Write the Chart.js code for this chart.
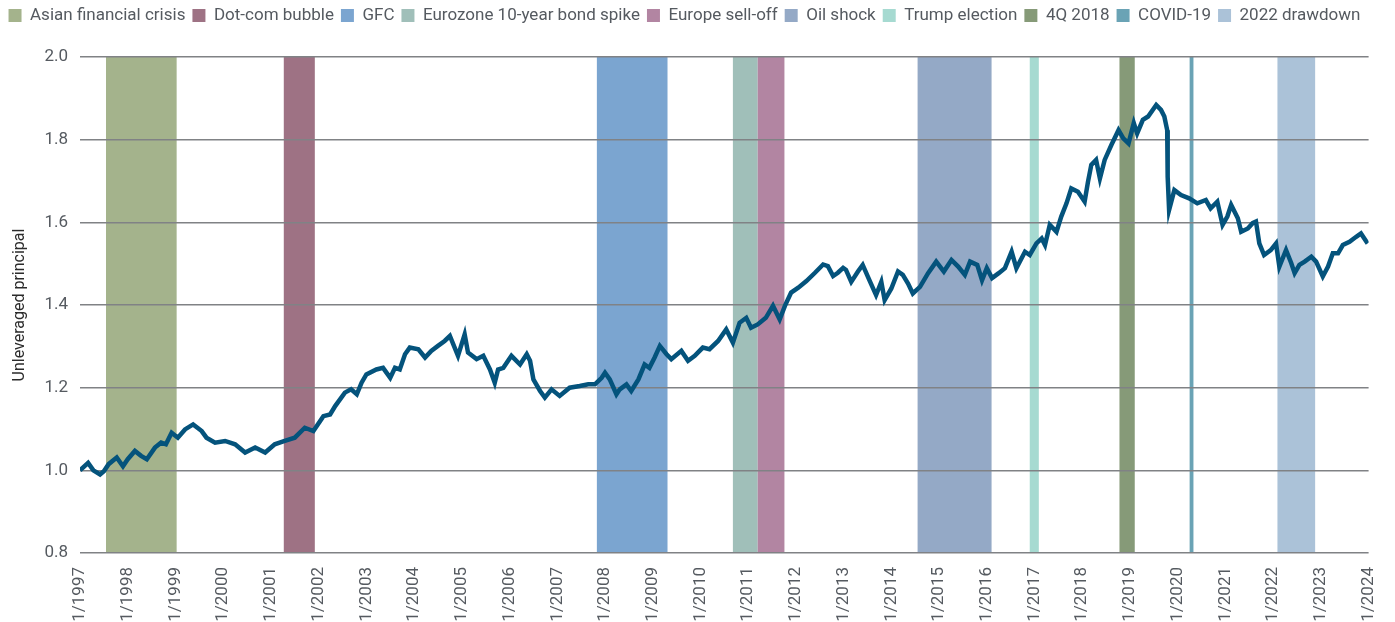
<!DOCTYPE html>
<html>
<head>
<meta charset="utf-8">
<script src="https://cdn.jsdelivr.net/npm/chart.js@4"></script>
<style>
    html, body { margin: 0; padding: 0; background: #fff; }
    #wrap { width: 1395px; height: 622px; position: relative; }
</style>
</head>
<body>
<div id="wrap"><canvas id="chart"></canvas></div>
<script>
// Unleveraged principal (decimal year -> value)
const dates = [
    1997.0, 1997.17, 1997.28, 1997.42, 1997.5, 1997.6, 1997.77, 1997.9, 1998.0, 1998.15,
    1998.28, 1998.4, 1998.57, 1998.7, 1998.8, 1998.92, 1999.05, 1999.2, 1999.37, 1999.55,
    1999.65, 1999.83, 2000.04, 2000.25, 2000.46, 2000.67, 2000.88, 2001.08, 2001.29, 2001.5,
    2001.71, 2001.89, 2002.1, 2002.24, 2002.35, 2002.55, 2002.68, 2002.8, 2002.9, 2003.0,
    2003.21, 2003.35, 2003.5, 2003.6, 2003.7, 2003.81, 2003.91, 2004.09, 2004.23, 2004.36,
    2004.5, 2004.64, 2004.75, 2004.92, 2005.06, 2005.13, 2005.31, 2005.45, 2005.59, 2005.69,
    2005.76, 2005.87, 2006.04, 2006.22, 2006.36, 2006.43, 2006.5, 2006.64, 2006.74, 2006.88,
    2007.05, 2007.26, 2007.47, 2007.65, 2007.79, 2007.93, 2008.0, 2008.1, 2008.24, 2008.31,
    2008.45, 2008.55, 2008.7, 2008.83, 2008.93, 2009.04, 2009.15, 2009.29, 2009.39, 2009.6,
    2009.74, 2009.88, 2010.05, 2010.19, 2010.37, 2010.54, 2010.68, 2010.82, 2010.96, 2011.06,
    2011.2, 2011.37, 2011.52, 2011.66, 2011.77, 2011.9, 2012.05, 2012.22, 2012.4, 2012.57,
    2012.67, 2012.78, 2012.88, 2012.99, 2013.05, 2013.16, 2013.3, 2013.4, 2013.54, 2013.68,
    2013.79, 2013.86, 2014.0, 2014.14, 2014.24, 2014.35, 2014.45, 2014.6, 2014.77, 2014.94,
    2015.1, 2015.26, 2015.4, 2015.54, 2015.65, 2015.8, 2015.9, 2016.0, 2016.11, 2016.25,
    2016.38, 2016.52, 2016.62, 2016.8, 2016.9, 2017.04, 2017.15, 2017.22, 2017.32, 2017.46,
    2017.56, 2017.67, 2017.77, 2017.91, 2018.05, 2018.12, 2018.19, 2018.29, 2018.37, 2018.47,
    2018.61, 2018.76, 2018.86, 2018.97, 2019.08, 2019.15, 2019.27, 2019.38, 2019.55, 2019.65,
    2019.72, 2019.78, 2019.79, 2019.82, 2019.93, 2020.07, 2020.24, 2020.41, 2020.59, 2020.69,
    2020.83, 2020.94, 2021.04, 2021.12, 2021.26, 2021.33, 2021.47, 2021.57, 2021.64, 2021.71,
    2021.81, 2021.95, 2022.06, 2022.13, 2022.27, 2022.38, 2022.45, 2022.55, 2022.66, 2022.8,
    2022.9, 2023.04, 2023.15, 2023.25, 2023.36, 2023.46, 2023.6, 2023.74, 2023.84, 2023.98
];
const principal = [
    1.000, 1.018, 1.000, 0.990, 0.998, 1.015, 1.031, 1.010, 1.027, 1.047,
    1.035, 1.027, 1.055, 1.067, 1.063, 1.091, 1.079, 1.099, 1.111, 1.095,
    1.079, 1.067, 1.071, 1.063, 1.043, 1.055, 1.043, 1.063, 1.071, 1.079,
    1.103, 1.095, 1.131, 1.135, 1.156, 1.188, 1.196, 1.184, 1.212, 1.232,
    1.244, 1.248, 1.224, 1.248, 1.244, 1.281, 1.297, 1.293, 1.273, 1.289,
    1.301, 1.313, 1.325, 1.277, 1.329, 1.285, 1.269, 1.277, 1.244, 1.212,
    1.244, 1.248, 1.277, 1.256, 1.281, 1.265, 1.220, 1.192, 1.176, 1.196,
    1.180, 1.200, 1.204, 1.208, 1.208, 1.224, 1.236, 1.220, 1.184, 1.196,
    1.208, 1.192, 1.220, 1.256, 1.248, 1.273, 1.301, 1.281, 1.269, 1.289,
    1.265, 1.277, 1.297, 1.293, 1.313, 1.341, 1.309, 1.357, 1.369, 1.345,
    1.353, 1.369, 1.398, 1.365, 1.398, 1.430, 1.442, 1.458, 1.478, 1.498,
    1.494, 1.470, 1.478, 1.490, 1.485, 1.456, 1.481, 1.497, 1.460, 1.424,
    1.456, 1.412, 1.440, 1.481, 1.473, 1.452, 1.428, 1.444, 1.477, 1.505,
    1.481, 1.509, 1.493, 1.473, 1.505, 1.497, 1.460, 1.489, 1.465, 1.477,
    1.489, 1.529, 1.489, 1.529, 1.521, 1.549, 1.561, 1.545, 1.594, 1.577,
    1.614, 1.646, 1.682, 1.674, 1.650, 1.698, 1.739, 1.751, 1.706, 1.751,
    1.787, 1.823, 1.803, 1.791, 1.840, 1.815, 1.848, 1.856, 1.884, 1.872,
    1.856, 1.823, 1.710, 1.630, 1.678, 1.666, 1.658, 1.646, 1.654, 1.634,
    1.650, 1.594, 1.614, 1.642, 1.610, 1.577, 1.585, 1.598, 1.602, 1.549,
    1.521, 1.533, 1.549, 1.493, 1.533, 1.501, 1.477, 1.497, 1.505, 1.517,
    1.505, 1.469, 1.493, 1.525, 1.525, 1.545, 1.553, 1.565, 1.573, 1.549
];

// Shaded stress periods
const bandLabels = [
    'Asian financial crisis', 'Dot-com bubble', 'GFC', 'Eurozone 10-year bond spike',
    'Europe sell-off', 'Oil shock', 'Trump election', '4Q 2018', 'COVID-19', '2022 drawdown'
];
const bandStart = [1997.545, 2001.27, 2007.83, 2010.68, 2011.2, 2014.55, 2016.9, 2018.78, 2020.25, 2022.09];
const bandEnd   = [1999.025, 2001.92, 2009.31, 2011.2, 2011.76, 2016.1, 2017.09, 2019.1, 2020.33, 2022.88];
const bandColors = [
    '#a4b38c', '#9e7284', '#7ba5d0', '#a0bfb9', '#b285a2',
    '#94a9c6', '#a6dad1', '#869a78', '#6aa3b5', '#abc2d8'
];

const yTicks = [0.8, 1.0, 1.2, 1.4, 1.6, 1.8, 2.0];

const FONT = 'Roboto, "Noto Sans", sans-serif';
const TEXT = '#555a60';

// Draw the period bands behind the grid, using the x scale
const bandPlugin = {
    id: 'bands',
    beforeDraw(chart) {
        const { ctx, chartArea, scales } = chart;
        ctx.save();
        for (let i = 0; i < bandStart.length; i++) {
            const x0 = scales.x.getPixelForValue(bandStart[i]);
            const x1 = scales.x.getPixelForValue(bandEnd[i]);
            ctx.fillStyle = bandColors[i];
            ctx.fillRect(x0, chartArea.top, x1 - x0, chartArea.bottom - chartArea.top);
        }
        ctx.restore();
    },
};

// Fixed legend height so the plot starts where it does in the picture
const legendHeight = {
    id: 'legendHeight',
    beforeInit(chart) {
        const fit = chart.legend.fit;
        chart.legend.fit = function () {
            fit.bind(chart.legend)();
            this.height = 57;
        };
    },
};

const datasets = bandLabels.map((label, i) => ({
    label,
    data: [],
    backgroundColor: bandColors[i],
    borderColor: bandColors[i],
    borderWidth: 0,
}));
datasets.push({
    label: 'Unleveraged principal',
    data: dates.map((d, i) => ({ x: d, y: principal[i] })),
    borderColor: '#04537c',
    borderWidth: 4.5,
    pointRadius: 0,
    tension: 0,
    fill: false,
});

new Chart(document.getElementById('chart'), {
    type: 'line',
    data: { datasets },
    options: {
        responsive: true,
        maintainAspectRatio: false,
        animation: false,
        layout: { padding: { left: 0, right: 26, top: 0, bottom: 0 } },
        plugins: {
            legend: {
                display: true,
                position: 'top',
                labels: {
                    filter: (item) => item.datasetIndex < bandLabels.length,
                    color: TEXT,
                    boxWidth: 13,
                    boxHeight: 13,
                    padding: 7,
                    font: { family: FONT, size: 17 },
                },
            },
            tooltip: { enabled: false },
        },
        scales: {
            x: {
                type: 'linear',
                min: 1997,
                max: 2024,
                afterBuildTicks: (scale) => {
                    const t = [];
                    for (let y = 1997; y <= 2024; y++) t.push({ value: y });
                    scale.ticks = t;
                },
                afterFit: (scale) => { scale.height = 69; },
                grid: { display: false },
                border: { display: false },
                ticks: {
                    color: TEXT,
                    font: { family: FONT, size: 17 },
                    minRotation: 90,
                    maxRotation: 90,
                    autoSkip: false,
                    padding: 6,
                    callback: (v) => '1/' + v,
                },
            },
            y: {
                min: 0.8,
                max: 2.0,
                afterBuildTicks: (scale) => {
                    scale.ticks = yTicks.map((v) => ({ value: v }));
                },
                afterFit: (scale) => { scale.width = 80; },
                grid: { color: '#808285', lineWidth: 1.5, drawTicks: false },
                border: { display: false },
                ticks: {
                    color: TEXT,
                    font: { family: FONT, size: 17 },
                    padding: 12,
                    callback: (v) => v.toFixed(1),
                },
                title: {
                    display: true,
                    text: 'Unleveraged principal',
                    color: '#2b2b2b',
                    font: { family: FONT, size: 16 },
                    padding: { top: 10, bottom: 0 },
                },
            },
        },
    },
    plugins: [bandPlugin, legendHeight],
});
</script>
</body>
</html>
